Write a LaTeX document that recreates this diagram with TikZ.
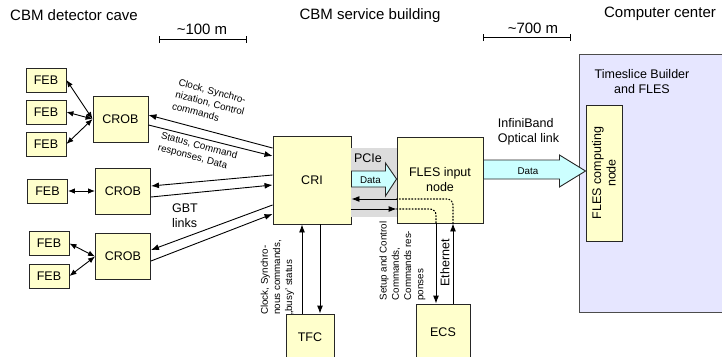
\documentclass[tikz,border=0pt]{standalone}
\usepackage{fontspec}
\setmainfont{Liberation Sans}
\usetikzlibrary{arrows.meta,calc}
\definecolor{boxfill}{HTML}{FFFFCC}
\definecolor{cyanfill}{HTML}{CCFFFF}
\definecolor{pcigray}{HTML}{DCDCDC}
\definecolor{ccfill}{HTML}{E6E6FF}
\begin{document}
\begin{tikzpicture}[x=1pt,y=-1pt,
  title/.style={font=\fontsize{15}{18}\selectfont, inner sep=0pt},
  box/.style={draw=black!85, fill=boxfill, line width=0.9pt, inner sep=0pt, align=center, font=\fontsize{12.5}{15}\selectfont},
  febbox/.style={box, minimum width=40pt, minimum height=24pt},
  crobbox/.style={box, minimum width=55pt, minimum height=46pt},
  small/.style={font=\fontsize{9.8}{12.2}\selectfont, inner sep=0pt, align=left},
  mid/.style={font=\fontsize{12.5}{14.5}\selectfont, inner sep=0pt},
  arr/.style={-{Latex[length=8pt,width=6pt]}, line width=0.9pt},
  darr/.style={{Latex[length=7pt,width=5.5pt]}-{Latex[length=7pt,width=5.5pt]}, line width=0.9pt},
  dots/.style={dotted, line width=1.1pt, line cap=round, rounded corners=6pt},
  fat/.style={draw=black!85, fill=cyanfill, line width=0.9pt, line join=miter},
  scalebar/.style={{Bar[width=7pt]}-{Bar[width=7pt]}, line width=0.9pt}
]
\useasboundingbox (0,0) rectangle (722,356);
\clip (0,0) rectangle (722,356);

% titles
\node[title] (t1) at (74,15) {CBM detector cave};
\node[title] (t2) at (370,16) {CBM service building};
\node[title] (t3) at (660,14) {Computer center};
\node[title] (d1) at (202,29) {\textasciitilde100 m};
\node[title] (d2) at (533,28) {\textasciitilde700 m};
\coordinate (s1a) at (159,39.5); \coordinate (s1b) at (247,39.5);
\coordinate (s2a) at (483,37.5); \coordinate (s2b) at (571,37.5);
\draw[scalebar] (s1a) -- (s1b);
\draw[scalebar] (s2a) -- (s2b);

% computer center
\node[draw=black!70, fill=ccfill, line width=0.9pt, minimum width=170pt, minimum height=258pt, anchor=north west, inner sep=0pt] (cc) at (579,54) {};
\node[mid, align=center] (tsb) at (642,81.5) {Timeslice Builder\\and FLES};
\node[box, minimum width=36pt, minimum height=136pt] (fcn) at (604,173) {};
\node[mid, align=center, rotate=90] (fcnl) at (fcn.center) {FLES computing\\node};

% FEB and CROB
\node[febbox] (feb1) at (46,80) {FEB};
\node[febbox] (feb2) at (46,112) {FEB};
\node[febbox] (feb3) at (46,144) {FEB};
\node[febbox] (feb4) at (47.5,191) {FEB};
\node[febbox] (feb5) at (49,243.5) {FEB};
\node[febbox] (feb6) at (49,276) {FEB};
\node[crobbox] (crob1) at (120.5,119) {CROB};
\node[crobbox] (crob2) at (123,191) {CROB};
\node[crobbox] (crob3) at (123,256.5) {CROB};

% CRI, FLES input node, TFC, ECS
\node[box, minimum width=78pt, minimum height=88pt] (cri) at (312,180) {CRI};
\node[box, minimum width=86pt, minimum height=86pt] (fin) at (440,180) {FLES input\\node};
\node[box, minimum width=48pt, minimum height=46pt] (tfc) at (310,337) {TFC};
\node[box, minimum width=54pt, minimum height=56pt] (ecs) at (443,332) {ECS};

% FEB-CROB links
\draw[darr] (feb1.east) -- (crob1.west);
\draw[darr] (feb2.east) -- (crob1.west);
\draw[darr] (feb3.east) -- (crob1.west);
\draw[darr] (feb4.east) -- (crob2.west);
\draw[darr] (feb5.east) -- (crob3.west);
\draw[darr] (feb6.east) -- (crob3.west);

% CROB-CRI links
\draw[arr] ($(cri.west)+(0,-32)$) -- ($(crob1.east)+(0,-4)$);
\draw[arr] ($(crob1.east)+(0,6)$) -- ($(cri.west)+(0,-24)$);
\draw[arr] ($(cri.west)+(0,-5)$) -- ($(crob2.east)+(0,-5)$);
\draw[arr] ($(crob2.east)+(0,6)$) -- ($(cri.west)+(0,5)$);
\draw[arr] ($(cri.west)+(0,25)$) -- ($(crob3.east)+(0,-6.5)$);
\draw[arr] ($(crob3.east)+(0,4.5)$) -- ($(cri.west)+(0,34)$);

\node[small, rotate=-15] (l1) at (210,103) {Clock, Synchro-\\nization, Control\\commands};
\node[small, rotate=-15] (l2) at (197.5,152) {Status, Command\\responses, Data};
\node[mid, align=left] (gbt) at (185,215.5) {GBT\\links};

% PCIe region
\fill[pcigray] ($(cri.east)+(0,-32)$) rectangle ($(fin.west)+(0,37)$);
\node[mid] (pcie) at (368,158) {PCIe};
\draw[fat] ($(cri.east)+(0,-9)$) -- ($(cri.east)+(34,-9)$) -- ($(cri.east)+(34,-17)$) -- ($(fin.west)+(0,-1)$) -- ($(cri.east)+(34,16)$) -- ($(cri.east)+(34,7)$) -- ($(cri.east)+(0,7)$) -- cycle;
\node[small] (pd) at (370.5,180) {Data};

% control paths CRI <-> FLES input node <-> ECS
\coordinate (ecsup) at ($(fin.south)+(13,0)$);
\coordinate (ecsdn) at ($(fin.south)+(-4,0)$);
\coordinate (r1) at ($(fin.west)+(0,19)$);
\coordinate (r2) at ($(fin.west)+(0,29)$);
\draw[arr] (ecsup |- ecs.north) -- (ecsup);
\draw[dots] (ecsup) |- (r1);
\draw[arr] (r1) -- (r1 -| cri.east);
\draw[arr] (r2 -| cri.east) -- (r2);
\draw[dots] (r2) -| (ecsdn);
\draw[arr] (ecsdn) -- (ecsdn |- ecs.north);

% CRI <-> TFC
\coordinate (tfcup) at ($(cri.south)+(-10,0)$);
\coordinate (tfcdn) at ($(cri.south)+(8,0)$);
\draw[arr] (tfcup |- tfc.north) -- (tfcup);
\draw[arr] (tfcdn) -- (tfcdn |- tfc.north);

\node[small, rotate=90] (l3) at (277.5,277.5) {Clock, Synchro-\\nous commands,\\„busy’ status};
\node[small, rotate=90] (l4) at (402.5,261) {Setup and Control\\Commands,\\Commands res-\\ponses};
\node[mid, rotate=90] (eth) at (445,263) {Ethernet};

% InfiniBand
\draw[fat] ($(fin.east)+(0,-20)$) -- ($(fin.east)+(76,-20)$) -- ($(fin.east)+(76,-25)$) -- ($(fcn.west)+(0,-2)$) -- ($(fin.east)+(76,7)$) -- ($(fin.east)+(76,-1)$) -- ($(fin.east)+(0,-1)$) -- cycle;
\node[small] (idata) at (528,171) {Data};
\node[mid, align=left] (ib) at (528.5,132) {InfiniBand\\Optical link};
\end{tikzpicture}
\end{document}
